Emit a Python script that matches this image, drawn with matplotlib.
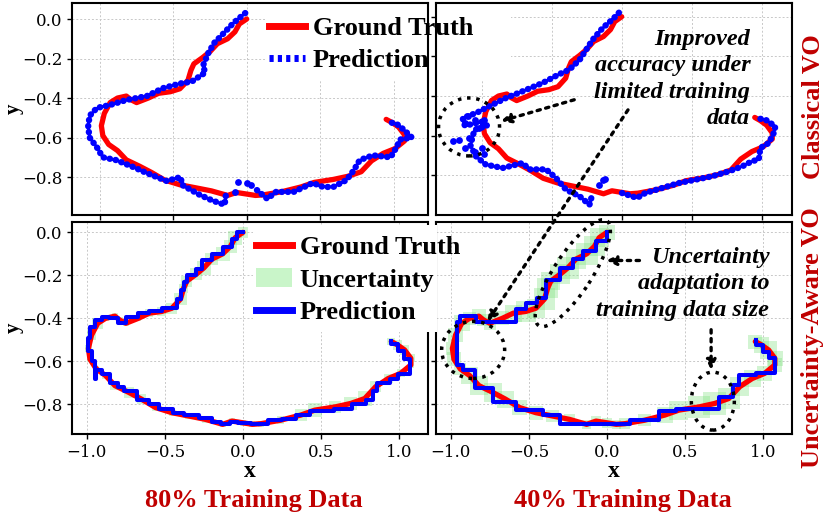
import numpy as np
import matplotlib
matplotlib.use("Agg")
import matplotlib.pyplot as plt
from matplotlib.lines import Line2D
from matplotlib.patches import Patch, Ellipse, Rectangle
from matplotlib.transforms import ScaledTranslation

nan = np.nan

# ground truth trajectory (same test sequence in every panel)
gt_x = [0.0, -0.05, -0.08, -0.13, -0.2, -0.25, -0.3, -0.36, -0.38, -0.4,
        -0.455, -0.52, -0.6, -0.67, -0.75, -0.79, -0.82, -0.88, -0.93, -0.97,
        -0.99, -0.98, -0.94, -0.88, -0.82, -0.73, -0.65, -0.56, -0.455, -0.35,
        -0.24, -0.13, -0.07, 0.0, 0.06, 0.115, 0.24, 0.37, 0.46, 0.59,
        0.69, 0.78, 0.85, 0.93, 1.01, 1.075, 1.075, 1.035, 0.99, 0.95]
gt_y = [0.0, -0.025, -0.065, -0.1, -0.125, -0.165, -0.195, -0.227, -0.26, -0.31,
        -0.353, -0.368, -0.376, -0.4, -0.423, -0.408, -0.39, -0.4, -0.423, -0.478,
        -0.54, -0.59, -0.635, -0.666, -0.713, -0.745, -0.776, -0.815, -0.839, -0.854,
        -0.87, -0.893, -0.878, -0.886, -0.893, -0.89, -0.874, -0.85, -0.827, -0.812,
        -0.796, -0.773, -0.718, -0.68, -0.656, -0.617, -0.586, -0.547, -0.524, -0.508]

# classical VO prediction, 80% training data (nan = break in the track)
cl80_x = [-0.01, -0.09, -0.18, -0.22, -0.26, -0.30, -0.28, -0.375, -0.45, -0.57,
          -0.68, -0.82, -0.93, -1.02, -1.07, -1.08, -1.07, -1.02, -0.98, -0.89,
          -0.77, -0.68, -0.545, -0.45, -0.44, -0.32, -0.23, -0.15, -0.14, nan,
          0.07, 0.14, 0.2, 0.32, 0.45, 0.52, 0.59, 0.68, 0.73, 0.77,
          0.86, 0.98, 1.02, 1.045, 1.125, 1.07, 1.02, 0.955]
cl80_y = [0.03, -0.02, -0.09, -0.12, -0.17, -0.24, -0.27, -0.317, -0.326, -0.35,
          -0.39, -0.41, -0.435, -0.45, -0.49, -0.545, -0.6, -0.65, -0.70, -0.714,
          -0.75, -0.78, -0.82, -0.80, -0.84, -0.89, -0.92, -0.94, -0.88, nan,
          -0.866, -0.91, -0.875, -0.875, -0.83, -0.85, -0.85, -0.815, -0.765, -0.714,
          -0.69, -0.70, -0.65, -0.61, -0.60, -0.56, -0.53, -0.52]
cl80_out_x = [-0.057, 0.0, 0.03, -0.08]
cl80_out_y = [-0.824, -0.832, -0.84, -0.874]

# classical VO prediction, 40% training data
cl40_x = [-0.02, -0.06, -0.136, -0.207, -0.30, -0.374, -0.446, -0.564, -0.707, -0.826,
          -0.946, -1.04, -1.136, -1.12, -1.0, -0.96, -1.05, -1.064, -1.08, -1.04,
          -0.97, -0.85, -0.707, -0.66, -0.54, -0.47, -0.398, -0.30, -0.23, -0.207, nan,
          0.002, 0.109, 0.169, 0.288, 0.407, 0.526, 0.645, 0.764, 0.86,
          0.93, 0.979, 0.99, 1.05, 1.086, 1.097, 1.026, 0.954]
cl40_y = [0.02, -0.01, -0.057, -0.116, -0.217, -0.267, -0.29, -0.334, -0.376, -0.41,
          -0.452, -0.486, -0.511, -0.55, -0.53, -0.55, -0.57, -0.603, -0.65, -0.704,
          -0.746, -0.763, -0.738, -0.77, -0.77, -0.813, -0.872, -0.906, -0.948, -0.889, nan,
          -0.889, -0.914, -0.889, -0.864, -0.839, -0.822, -0.805, -0.78, -0.755,
          -0.729, -0.72, -0.662, -0.637, -0.586, -0.553, -0.519, -0.511]
# scattered estimates, mostly in the cluster near (-1.05, -0.55)
cl40_out_x = [-1.207, -1.16, -1.09, -1.12, -1.1, -1.05, -0.98, -1.12, -1.02,
              -1.0, -1.05, -0.98, -0.136, -0.16, -0.12]
cl40_out_y = [-0.628, -0.62, -0.612, -0.66, -0.5, -0.52, -0.52, -0.535, -0.56,
              -0.66, -0.68, -0.69, -0.822, -0.847, -0.82]

# uncertainty-aware VO prediction (stepwise output), 80% training data
ua80_x = [0.0, -0.04, -0.07, -0.13, -0.2, -0.26, -0.3, -0.36, -0.38, -0.4,
          -0.42, -0.52, -0.6, -0.67, -0.75, -0.8, -0.86, -0.9, -0.95, -0.98,
          -0.99, -0.97, -0.95, -0.94, -0.9, -0.85, -0.8, -0.76, -0.68, -0.6,
          -0.54, -0.45, -0.38, -0.28, -0.2, -0.14, -0.08, -0.03, 0.05, 0.16,
          0.25, 0.34, 0.43, 0.56, 0.58, 0.7, 0.79, 0.83, 0.86, 0.94,
          0.99, 1.07, 1.07, 1.03, 0.99, 0.95]
ua80_y = [0.0, -0.03, -0.07, -0.1, -0.13, -0.17, -0.2, -0.23, -0.27, -0.31,
          -0.35, -0.365, -0.375, -0.395, -0.42, -0.4, -0.395, -0.41, -0.44, -0.49,
          -0.55, -0.6, -0.68, -0.64, -0.66, -0.7, -0.72, -0.74, -0.78, -0.8,
          -0.82, -0.84, -0.85, -0.865, -0.88, -0.89, -0.88, -0.885, -0.89, -0.875,
          -0.87, -0.85, -0.83, -0.83, -0.82, -0.8, -0.78, -0.74, -0.7, -0.68,
          -0.66, -0.64, -0.59, -0.55, -0.52, -0.505]

# uncertainty-aware VO prediction, 40% training data
ua40_x = [0.0, 0.0, -0.07, -0.155, -0.22, -0.30, -0.39, -0.45, -0.52, -0.58,
          -0.58, -0.84, -0.94, -0.96, -0.92, -0.846, -0.73, -0.58, -0.41, -0.30,
          0.145, 0.336, 0.443, 0.72, 0.805, 0.848, 0.955, 1.073, 1.04, 1.0, 0.955]
ua40_y = [0.0, -0.04, -0.085, -0.125, -0.165, -0.22, -0.305, -0.33, -0.355, -0.375,
          -0.415, -0.39, -0.415, -0.617, -0.64, -0.726, -0.79, -0.828, -0.851, -0.89,
          -0.874, -0.832, -0.82, -0.765, -0.71, -0.664, -0.656, -0.586, -0.555, -0.524, -0.50]

# predicted uncertainty (half-width) along the ground truth points
unc80 = [0.035, 0.045, 0.04, 0.045, 0.04, 0.045, 0.04, 0.035, 0.03, 0.04,
         0.035, 0.03, 0.025,
         0.02, 0.02, 0.02, 0.02, 0.02,
         0.035, 0.03,
         0.02, 0.02, 0.02,
         0.025, 0.03, 0.035, 0.03, 0.025,
         0.02, 0.02, 0.02, 0.02, 0.02, 0.02, 0.02, 0.02,
         0.025,
         0.04, 0.045, 0.04, 0.04, 0.045,
         0.035, 0.03,
         0.025, 0.02, 0.025, 0.03, 0.03, 0.025]
unc40 = [0.05, 0.06, 0.065, 0.07, 0.065, 0.07, 0.065, 0.06, 0.065, 0.07,
         0.06, 0.065, 0.055,
         0.045, 0.04, 0.04, 0.045, 0.04,
         0.05, 0.045, 0.04, 0.045, 0.04,
         0.055, 0.06, 0.06, 0.055, 0.05,
         0.045, 0.04, 0.035, 0.03, 0.03, 0.03, 0.03, 0.035,
         0.04, 0.05, 0.06, 0.07, 0.075, 0.07,
         0.06, 0.055,
         0.05, 0.045, 0.05, 0.055, 0.05, 0.045]

xticks = [-1.0, -0.5, 0.0, 0.5, 1.0]
yticks = [0.0, -0.2, -0.4, -0.6, -0.8]

SERIF = 'Liberation Serif'
DARKRED = '#c00000'
GREEN = '#7ee07e'

W, H = 831, 522
fig = plt.figure(figsize=(W / 100, H / 100), dpi=100)


def box(l, t, r, b):
    # pixel box (from top-left) -> figure fraction rect
    return [l / W, 1 - b / H, (r - l) / W, (b - t) / H]


ax_tl = fig.add_axes(box(72, 3, 428, 215))
ax_tr = fig.add_axes(box(436, 3, 792, 215))
ax_bl = fig.add_axes(box(72, 222, 428, 434))
ax_br = fig.add_axes(box(436, 222, 792, 434))

ax_tl.set_xlim(-1.19, 1.235)
ax_tl.set_ylim(-0.992, 0.081)
ax_tr.set_xlim(-1.326, 1.216)
ax_tr.set_ylim(-1.0, 0.069)
for ax in (ax_bl, ax_br):
    ax.set_xlim(-1.095, 1.185)
    ax.set_ylim(-0.938, 0.048)

for ax in (ax_tl, ax_tr, ax_bl, ax_br):
    ax.set_xticks(xticks)
    ax.set_yticks(yticks)
    ax.grid(True, color='#c8c8c8', ls=(0, (2, 2)), lw=0.7)
    ax.set_axisbelow(True)
    for sp in ax.spines.values():
        sp.set_linewidth(1.5)
    ax.tick_params(labelsize=12, labelfontfamily='DejaVu Serif', width=1, length=3.5)

ax_tl.tick_params(labelbottom=False)
ax_tr.tick_params(labelbottom=False, labelleft=False)
ax_br.tick_params(labelleft=False)

lab = dict(family=SERIF, weight='bold', size=15)
ax_tl.set_ylabel('y', **lab)
ax_bl.set_ylabel('y', **lab)
ax_tl.yaxis.set_label_coords(-0.135, 0.5)
ax_bl.yaxis.set_label_coords(-0.135, 0.5)
ax_bl.set_xlabel('x', labelpad=0, size=17, family=SERIF, weight='bold')
ax_br.set_xlabel('x', labelpad=0, size=17, family=SERIF, weight='bold')

# classical VO panels
for ax, px, py, ox, oy in ((ax_tl, cl80_x, cl80_y, cl80_out_x, cl80_out_y),
                           (ax_tr, cl40_x, cl40_y, cl40_out_x, cl40_out_y)):
    ax.plot(gt_x, gt_y, color='red', lw=3.8, solid_capstyle='round', zorder=2)
    ax.plot(px, py, color='blue', lw=4.6, ls=(0, (0.05, 0.9)), dash_capstyle='round', zorder=3)
    ax.scatter(ox, oy, s=24, color='blue', lw=0, zorder=3)

# uncertainty-aware VO panels
for ax, px, py, unc in ((ax_bl, ua80_x, ua80_y, unc80), (ax_br, ua40_x, ua40_y, unc40)):
    ppu = ax.bbox.width / (ax.get_xlim()[1] - ax.get_xlim()[0])
    sizes = [(2 * u * ppu * 72 / fig.dpi) ** 2 for u in unc]
    ax.scatter(gt_x, gt_y, s=sizes, marker='s', color=GREEN, alpha=0.35, lw=0, zorder=1.5)
    ax.plot(gt_x, gt_y, color='red', lw=3.8, solid_capstyle='round', zorder=2)
    ax.step(px, py, where='post', color='blue', lw=2.9, zorder=3)

# white boxes behind the legends
ax_tl.add_patch(Rectangle((0.542, 0.63), 0.458, 0.37, transform=ax_tl.transAxes,
                          fc='white', ec='none', zorder=2.2))
ax_tr.add_patch(Rectangle((0.0, 0.63), 0.21, 0.37, transform=ax_tr.transAxes,
                          fc='white', ec='none', zorder=2.2))
fig.add_artist(Rectangle((253 / W, 1 - 332 / H), 184 / W, 107 / H, transform=fig.transFigure,
                         fc='white', ec='none', zorder=4))

leg_font = dict(family=SERIF, weight='bold', size=19)
top_handles = [Line2D([], [], color='red', lw=5),
               Line2D([], [], color='blue', lw=5, ls=(0, (0.6, 0.6)))]
fig.legend(top_handles, ['Ground Truth', 'Prediction'], loc='upper left',
           bbox_to_anchor=(269 / W, 1 - 17 / H), frameon=False, prop=leg_font,
           handlelength=1.35, handletextpad=0.3, labelspacing=0.3,
           borderpad=0, borderaxespad=0)
bot_handles = [Line2D([], [], color='red', lw=5),
               Patch(facecolor='#c9f5c9', edgecolor='none'),
               Line2D([], [], color='blue', lw=5)]
fig.legend(bot_handles, ['Ground Truth', 'Uncertainty', 'Prediction'], loc='upper left',
           bbox_to_anchor=(256 / W, 1 - 236 / H), frameon=False, prop=leg_font,
           handlelength=1.35, handletextpad=0.3, labelspacing=0.33,
           borderpad=0, borderaxespad=0)


def dotted_ellipse(ax, cx, cy, w_px, h_px, angle=0):
    tr = fig.dpi_scale_trans + ScaledTranslation(cx, cy, ax.transData)
    ax.add_artist(Ellipse((0, 0), w_px / 100, h_px / 100, angle=angle, transform=tr,
                          fill=False, ec='black', lw=2.5, ls=':', clip_on=False, zorder=5))


arrow = dict(arrowstyle='-|>', color='black', lw=2.4, ls=':', mutation_scale=14,
             shrinkA=0, shrinkB=0)
note = dict(family=SERIF, weight='bold', style='italic', size=17.5)

# top-right annotation
dotted_ellipse(ax_tr, -1.09, -0.556, 61, 58)
ax_tr.annotate('', xy=(-0.862, -0.527), xytext=(-0.339, -0.419), arrowprops=arrow)
ax_tr.text(0.918, -0.314, 'Improved\naccuracy under\nlimited training\ndata',
           ha='right', va='center', multialignment='right', linespacing=1.35, **note)

# bottom-right annotation
dotted_ellipse(ax_br, -0.857, -0.547, 63, 57)
dotted_ellipse(ax_br, -0.219, -0.19, 125, 38, angle=57)
dotted_ellipse(ax_br, 0.678, -0.785, 43, 58)
ax_br.annotate('', xy=(-0.004, -0.131), xytext=(0.208, -0.131), arrowprops=arrow)
ax_br.annotate('', xy=(0.667, -0.64), xytext=(0.667, -0.453), arrowprops=arrow)
ax_br.annotate('', xy=(-0.765, -0.415), xytext=(0.045, -0.47), textcoords=ax_tr.transData,
               arrowprops=arrow, annotation_clip=False)
ax_br.text(1.04, -0.239, 'Uncertainty\nadaptation to\ntraining data size',
           ha='right', va='center', multialignment='right', linespacing=1.35, **note)

# row and column titles
title = dict(family=SERIF, weight='bold', size=19, color=DARKRED)
fig.text(813 / W, 1 - 107 / H, 'Classical VO', rotation=90, ha='center', va='center', **title)
fig.text(813 / W, 1 - 338 / H, 'Uncertainty-Aware VO', rotation=90, ha='center', va='center', **title)
fig.text(254 / W, 1 - 501 / H, '80% Training Data', ha='center', va='center', **title)
fig.text(623 / W, 1 - 501 / H, '40% Training Data', ha='center', va='center', **title)

fig.savefig('out.png', dpi=100)
